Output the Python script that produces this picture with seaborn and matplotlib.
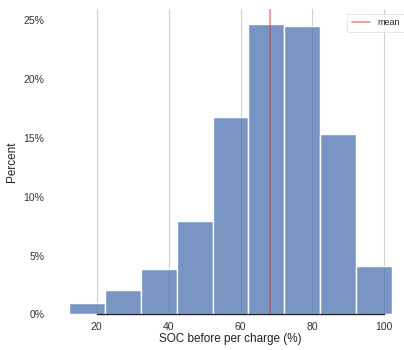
import matplotlib
matplotlib.use("Agg")
import matplotlib.pyplot as plt
import seaborn as sns
import numpy as np
from matplotlib.ticker import PercentFormatter

# Data
bin_edges = [12.2, 22.2, 32.2, 42.2, 52.2, 62.2, 72.2, 82.2, 92.2, 102.2]
bin_percent = [0.99, 2.07, 3.86, 7.97, 16.78, 24.73, 24.56, 15.36, 4.11]
mean_soc = 68.3
x_label = "SOC before per charge (%)"
y_label = "Percent"

centers = [(a + b) / 2 for a, b in zip(bin_edges[:-1], bin_edges[1:])]

sns.set_theme(style="whitegrid")
plt.rcParams['font.family'] = ['Liberation Sans', 'DejaVu Sans']

fig = plt.figure(figsize=(4.04, 3.5), dpi=100)
ax = fig.add_axes([0.13, 0.102, 0.881, 0.872])

sns.histplot(x=centers, weights=bin_percent, bins=bin_edges, stat="count",
             ax=ax, color="#4c72b0", alpha=0.75, edgecolor="white", linewidth=1)
ax.axvline(mean_soc, color="#e03030", alpha=0.55, lw=1.2, label="mean")

ax.yaxis.set_major_formatter(PercentFormatter(xmax=100, decimals=0))
ax.grid(axis="y", visible=False)
ax.grid(axis="x", color="#d0d0d0", lw=0.8)
ax.set_xlabel(x_label, fontsize=8.5, color="#222222", labelpad=1)
ax.set_ylabel(y_label, fontsize=8.5, color="#222222", labelpad=3.5)
ax.tick_params(axis="x", labelsize=7.5, colors="#333333", length=0, pad=5.5)
ax.tick_params(axis="y", labelsize=7.5, colors="#333333", length=0, pad=6)
sns.despine(ax=ax, left=True, trim=True)
ax.spines["bottom"].set_color("#222222")
ax.spines["bottom"].set_linewidth(1)

leg = ax.legend(loc="upper right", fontsize=6.5, frameon=True, borderaxespad=0.5,
                handlelength=2.0, fancybox=False, borderpad=0.5)
leg.get_frame().set_edgecolor("#dddddd")
leg.get_frame().set_linewidth(0.6)

fig.savefig("out.png", dpi=100)
